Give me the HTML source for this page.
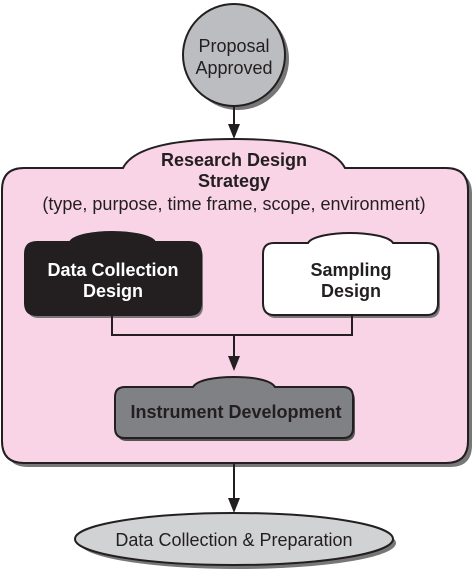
<!DOCTYPE html>
<html><head><style>body{margin:0;background:#fff}svg{display:block}</style></head><body>
<svg width="476" height="572" viewBox="0 0 476 572" xmlns="http://www.w3.org/2000/svg" font-family="Liberation Sans, Arial, sans-serif">
<defs>
<path id="pink" d="M2,190 Q2,168 24,168 H123 C132,150 165,139 234,139 C303,139 336,150 345,168 H446 Q468,168 468,190 V441 Q468,463 446,463 H24 Q2,463 2,441 Z"/>
<path id="dc" d="M25,254 Q25,242 37,242 H70 C74,235 95,232 112,232 C129,232 151,235 155,242 H189 Q201,242 201,254 V303 Q201,315 189,315 H37 Q25,315 25,303 Z"/>
<path id="sd" d="M263,254 Q263,243 274,243 H308 C312,236 333,233 350,233 C367,233 389,236 393,243 H427 Q438,243 438,254 V303 Q438,315 427,315 H274 Q263,315 263,303 Z"/>
<path id="id" d="M115,397 Q115,387 125,387 H193 C197,380 215,377 234,377 C253,377 271,380 275,387 H343 Q353,387 353,397 V428 Q353,438 343,438 H125 Q115,438 115,428 Z"/>
</defs>
<circle cx="238" cy="59" r="51" fill="#777"/>
<circle cx="234" cy="55" r="51" fill="#bcbdc0" stroke="#231f20" stroke-width="2"/>
<text x="234" y="52" font-size="18" text-anchor="middle" fill="#231f20">Proposal</text>
<text x="234" y="74" font-size="18" text-anchor="middle" fill="#231f20">Approved</text>
<line x1="234" y1="106" x2="234" y2="126" stroke="#231f20" stroke-width="2"/>
<polygon points="228,124 240,124 234,139" fill="#231f20"/>
<use href="#pink" transform="translate(4,4)" fill="#777"/>
<use href="#pink" fill="#f9d3e6" stroke="#231f20" stroke-width="2"/>
<text x="234" y="166" font-size="18" font-weight="bold" text-anchor="middle" fill="#231f20">Research Design</text>
<text x="234" y="187" font-size="18" font-weight="bold" text-anchor="middle" fill="#231f20">Strategy</text>
<text x="234" y="210" font-size="18" text-anchor="middle" fill="#231f20">(type, purpose, time frame, scope, environment)</text>
<use href="#dc" transform="translate(2,3)" fill="#777"/>
<use href="#dc" fill="#231f20" stroke="#231f20" stroke-width="2"/>
<text x="113" y="276" font-size="18" font-weight="bold" text-anchor="middle" fill="#fff">Data Collection</text>
<text x="113" y="297" font-size="18" font-weight="bold" text-anchor="middle" fill="#fff">Design</text>
<use href="#sd" transform="translate(2,3)" fill="#777"/>
<use href="#sd" fill="#fff" stroke="#231f20" stroke-width="2"/>
<text x="351" y="276" font-size="18" font-weight="bold" text-anchor="middle" fill="#231f20">Sampling</text>
<text x="351" y="297" font-size="18" font-weight="bold" text-anchor="middle" fill="#231f20">Design</text>
<polyline points="112,315 112,335 352,335 352,315" fill="none" stroke="#231f20" stroke-width="2"/>
<line x1="234" y1="335" x2="234" y2="358" stroke="#231f20" stroke-width="2"/>
<polygon points="228,356 240,356 234,371" fill="#231f20"/>
<use href="#id" transform="translate(2,3)" fill="#555"/>
<use href="#id" fill="#808184" stroke="#231f20" stroke-width="2"/>
<text x="236" y="418" font-size="18" font-weight="bold" text-anchor="middle" fill="#231f20">Instrument Development</text>
<line x1="234" y1="463" x2="234" y2="500" stroke="#231f20" stroke-width="2"/>
<polygon points="228,498 240,498 234,513" fill="#231f20"/>
<ellipse cx="238" cy="543" rx="158" ry="26" fill="#777"/>
<ellipse cx="234" cy="539" rx="159" ry="26" fill="#d1d2d4" stroke="#231f20" stroke-width="2"/>
<text x="234" y="546" font-size="18" text-anchor="middle" fill="#231f20">Data Collection &amp; Preparation</text>
</svg>
</body></html>
